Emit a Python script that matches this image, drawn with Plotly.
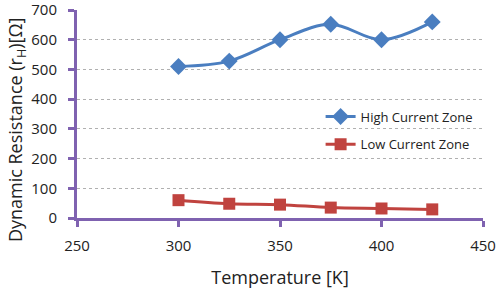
import plotly.graph_objects as go

temperature = [300, 325, 350, 375, 400, 425]
high_current = [510, 528, 600, 652, 600, 660]
low_current = [60, 48, 45, 35, 32, 29]

purple = "#7F62B0"
fig = go.Figure()
fig.add_trace(go.Scatter(
    x=temperature, y=high_current, name="High Current Zone", legendgroup="h",
    mode="lines+markers", line=dict(color="#4A7EC0", width=3, shape="spline"),
    marker=dict(symbol="diamond", size=13, color="#4A7EC0")))
fig.add_trace(go.Scatter(
    x=temperature, y=low_current, name="Low Current Zone", legendgroup="l",
    mode="lines+markers", line=dict(color="#C0433F", width=3, shape="spline"),
    marker=dict(symbol="square", size=12, color="#C0433F")))

font = "Open Sans, Lato, sans-serif"
fig.update_layout(
    width=498, height=294,
    margin=dict(l=77, r=15, t=10, b=76, autoexpand=False),
    paper_bgcolor="white", plot_bgcolor="white",
    font=dict(family=font, size=15, color="#222"),
    showlegend=True,
    legend=dict(x=0.6, y=0.56, xanchor="left", yanchor="top",
                font=dict(size=13), bgcolor="rgba(0,0,0,0)",
                tracegroupgap=8),
    xaxis=dict(range=[250, 450], tickvals=[250, 300, 350, 400, 450], automargin=False,
               ticklabelstandoff=6,
               showgrid=False, zeroline=False, showline=True, linecolor=purple,
               linewidth=3, ticks="outside", tickcolor=purple, tickwidth=3, ticklen=6,
               title=dict(text="Temperature [K]", font=dict(size=18), standoff=18)),
    yaxis=dict(range=[0, 700], tickvals=[0, 100, 200, 300, 400, 500, 600, 700],
               ticklabeloverflow="allow", automargin=False, ticklabelstandoff=8,
               showgrid=True, gridcolor="#B0B0B0", griddash="dot", gridwidth=1,
               zeroline=False, showline=True, linecolor=purple, linewidth=3,
               ticks="outside", tickcolor=purple, tickwidth=3, ticklen=6),
    annotations=[dict(text="Dynamic Resistance (r<sub>H</sub>)[Ω]", textangle=-90,
                      xref="paper", yref="paper", x=-0.150, y=0.423,
                      xanchor="center", yanchor="middle", showarrow=False,
                      font=dict(size=18))],
)
fig.write_html("out.html")
